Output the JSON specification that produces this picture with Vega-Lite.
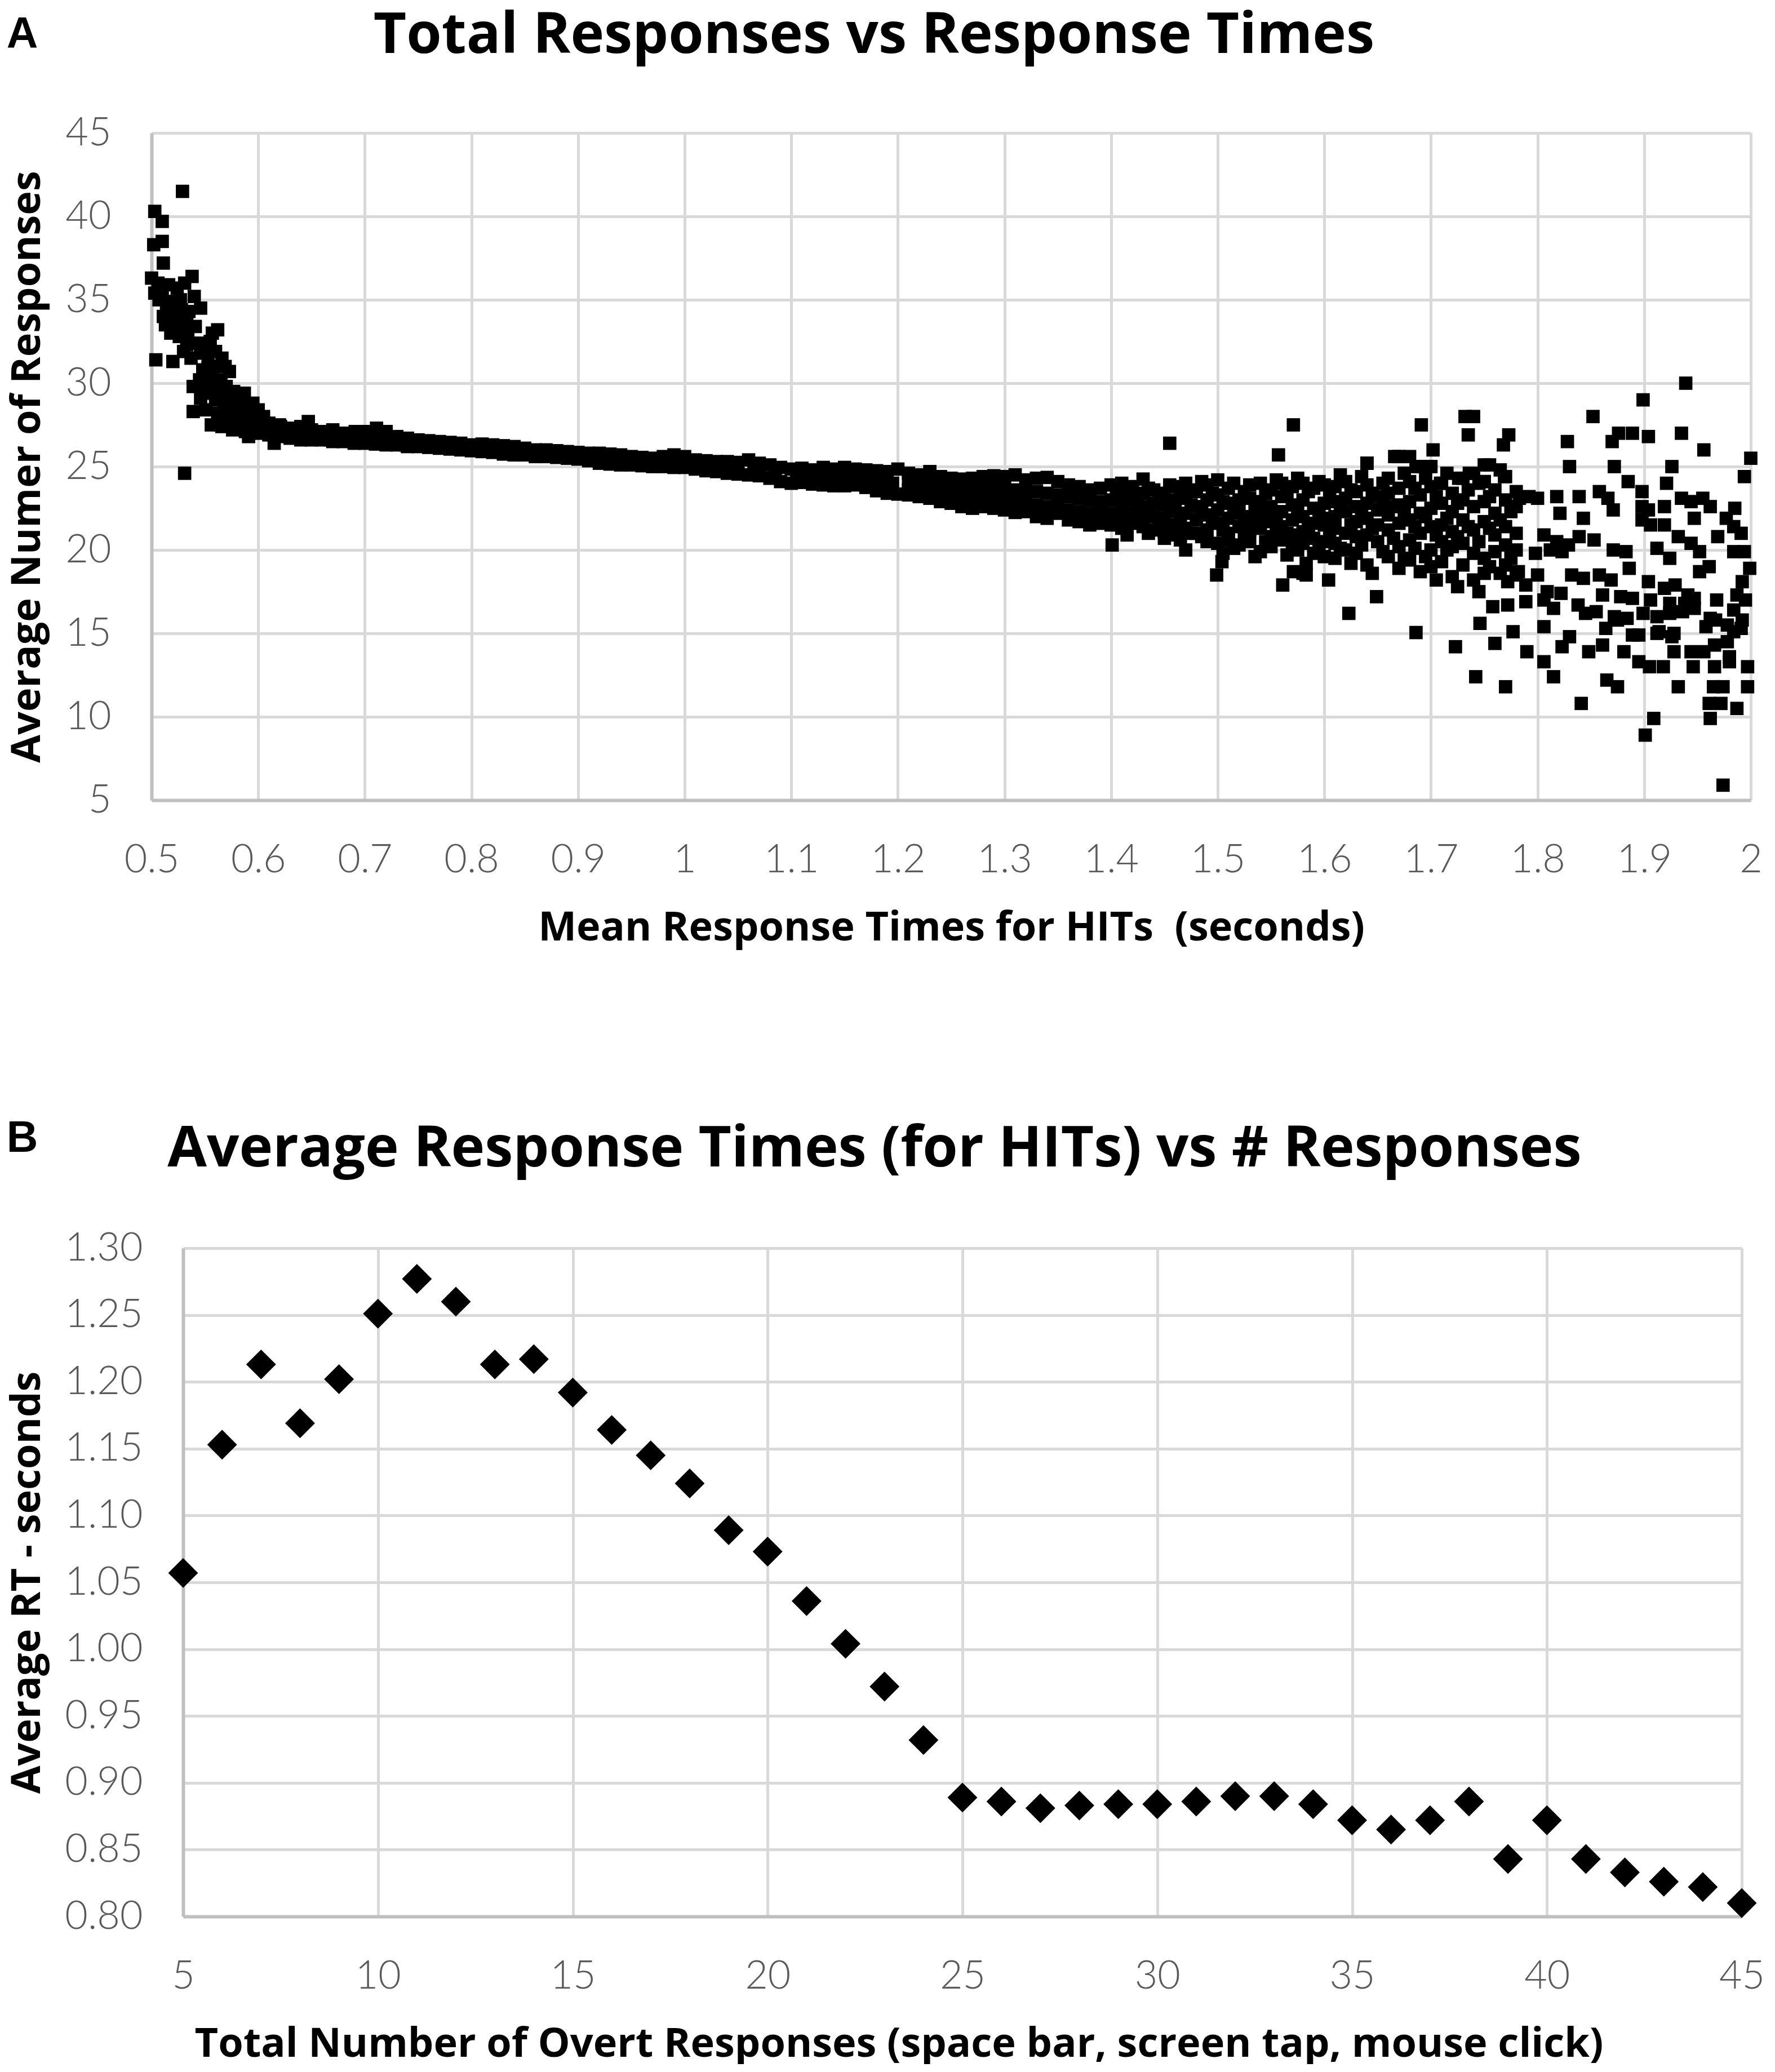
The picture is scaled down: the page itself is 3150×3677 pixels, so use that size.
{
  "$schema": "https://vega.github.io/schema/vega-lite/v6.json",
  "background": "white",
  "padding": {"top": 13, "left": 11, "right": 0, "bottom": 0},
  "spacing": 300,
  "config": {
    "view": {"stroke": null},
    "axis": {
      "labelFont": "Lato", "labelFontSize": 70, "labelFontWeight": 300, "labelColor": "#595959",
      "labelPadding": 72, "labelFlush": false, "labelOverlap": false,
      "ticks": false, "tickSize": 0,
      "grid": true, "gridColor": "#d9d9d9", "gridWidth": 5,
      "domainColor": "#bfbfbf", "domainWidth": 6,
      "titleFont": "Open Sans", "titleFontSize": 72, "titleFontWeight": "bold", "titleColor": "#000000"
    },
    "axisX": {"titlePadding": 50},
    "axisY": {"titlePadding": 30},
    "title": {"font": "Open Sans", "fontSize": 101, "fontWeight": "bold", "color": "#000000", "baseline": "alphabetic", "anchor": "middle", "frame": "group"}
  },
  "datasets": {
    "hits": [
      {"k":5,"rt":1.057},{"k":6,"rt":1.153},{"k":7,"rt":1.213},{"k":8,"rt":1.169},{"k":9,"rt":1.202},
      {"k":10,"rt":1.251},{"k":11,"rt":1.277},{"k":12,"rt":1.260},{"k":13,"rt":1.213},{"k":14,"rt":1.217},
      {"k":15,"rt":1.192},{"k":16,"rt":1.164},{"k":17,"rt":1.145},{"k":18,"rt":1.124},{"k":19,"rt":1.089},
      {"k":20,"rt":1.073},{"k":21,"rt":1.036},{"k":22,"rt":1.004},{"k":23,"rt":0.972},{"k":24,"rt":0.932},
      {"k":25,"rt":0.889},{"k":26,"rt":0.886},{"k":27,"rt":0.881},{"k":28,"rt":0.883},{"k":29,"rt":0.884},
      {"k":30,"rt":0.884},{"k":31,"rt":0.886},{"k":32,"rt":0.890},{"k":33,"rt":0.890},{"k":34,"rt":0.884},
      {"k":35,"rt":0.872},{"k":36,"rt":0.865},{"k":37,"rt":0.872},{"k":38,"rt":0.886},{"k":39,"rt":0.843},
      {"k":40,"rt":0.872},{"k":41,"rt":0.843},{"k":42,"rt":0.833},{"k":43,"rt":0.826},{"k":44,"rt":0.822},
      {"k":45,"rt":0.810}
    ],
    "rt": [
      {"t":0.529,"n":41.5},{"t":0.503,"n":40.3},{"t":0.510,"n":39.7},{"t":0.502,"n":38.3},{"t":0.510,"n":38.5},
      {"t":0.511,"n":37.2},{"t":0.500,"n":36.3},{"t":0.538,"n":36.4},{"t":0.531,"n":36.0},{"t":0.516,"n":35.9},
      {"t":0.524,"n":35.7},{"t":0.503,"n":35.4},{"t":0.510,"n":35.2},{"t":0.519,"n":34.6},{"t":0.528,"n":34.4},
      {"t":0.546,"n":34.5},{"t":0.514,"n":34.3},{"t":0.523,"n":34.1},{"t":0.535,"n":34.3},{"t":0.513,"n":33.5},
      {"t":0.524,"n":33.4},{"t":0.541,"n":33.4},{"t":0.562,"n":33.2},{"t":0.518,"n":33.0},{"t":0.526,"n":32.8},
      {"t":0.555,"n":32.5},{"t":0.543,"n":32.4},{"t":0.530,"n":31.9},{"t":0.504,"n":31.4},{"t":0.520,"n":31.3},
      {"t":0.537,"n":31.5},{"t":0.546,"n":31.8},{"t":0.553,"n":31.5},{"t":0.566,"n":31.5},{"t":0.573,"n":30.7},
      {"t":0.545,"n":30.2},{"t":0.554,"n":30.3},{"t":0.561,"n":30.2},{"t":0.546,"n":29.1},{"t":0.539,"n":28.3},
      {"t":0.551,"n":28.4},{"t":0.556,"n":27.5},{"t":0.564,"n":27.5},{"t":0.572,"n":29.2},{"t":0.587,"n":29.4},
      {"t":0.563,"n":29.5},{"t":0.558,"n":29.6},{"t":0.575,"n":28.0},{"t":0.582,"n":28.7},{"t":0.593,"n":28.4},
      {"t":0.596,"n":27.5},{"t":0.605,"n":28.0},{"t":0.591,"n":26.8},{"t":0.615,"n":26.4},{"t":0.610,"n":27.3},
      {"t":0.621,"n":27.4},{"t":0.636,"n":26.8},{"t":0.647,"n":27.7},{"t":0.659,"n":26.8},{"t":0.668,"n":26.6},
      {"t":0.677,"n":27.0},{"t":0.691,"n":27.1},{"t":0.711,"n":27.3},{"t":0.720,"n":26.4},{"t":0.738,"n":26.3},
      {"t":0.531,"n":24.6},{"t":0.566,"n":27.4},{"t":0.579,"n":27.4},
      {"t":0.548,"n":30.8},{"t":0.552,"n":29.9},{"t":0.557,"n":30.6},{"t":0.560,"n":29.0},{"t":0.565,"n":30.0},
      {"t":0.568,"n":28.8},{"t":0.570,"n":29.8},{"t":0.574,"n":28.5},{"t":0.577,"n":29.5},{"t":0.580,"n":28.2},
      {"t":0.584,"n":29.0},{"t":0.586,"n":27.8},{"t":0.589,"n":28.6},{"t":0.592,"n":27.9},{"t":0.595,"n":28.8},
      {"t":0.598,"n":27.9},{"t":0.600,"n":28.4},{"t":0.602,"n":27.4},{"t":0.606,"n":27.6},{"t":0.562,"n":28.2},
      {"t":0.567,"n":27.9},{"t":0.571,"n":27.6},{"t":0.576,"n":27.2},{"t":0.583,"n":27.3},{"t":0.588,"n":27.1},
      {"t":0.597,"n":27.1},{"t":0.553,"n":30.9},{"t":0.558,"n":31.0},{"t":0.549,"n":32.0},{"t":0.557,"n":33.0},
      {"t":0.533,"n":33.9},{"t":0.527,"n":35.0},{"t":0.540,"n":35.2},{"t":0.533,"n":32.3},{"t":0.539,"n":29.8},
      {"t":0.550,"n":29.4},{"t":0.569,"n":31.0},{"t":0.560,"n":31.9},{"t":0.516,"n":34.9},{"t":0.521,"n":33.8},
      {"t":0.529,"n":33.6},{"t":0.534,"n":32.9},{"t":0.511,"n":34.0},{"t":0.506,"n":36.0},{"t":0.507,"n":35.0},
      {"t":0.60,"n":27.8},{"t":0.60,"n":27.0},{"t":0.61,"n":27.6},{"t":0.61,"n":26.9},{"t":0.62,"n":27.5},{"t":0.62,"n":26.8},
      {"t":0.63,"n":27.3},{"t":0.63,"n":26.7},{"t":0.64,"n":27.4},{"t":0.64,"n":26.6},{"t":0.65,"n":27.2},{"t":0.65,"n":26.6},
      {"t":0.66,"n":27.1},{"t":0.66,"n":26.6},{"t":0.67,"n":27.2},{"t":0.67,"n":26.5},{"t":0.68,"n":27.0},{"t":0.68,"n":26.5},
      {"t":0.69,"n":27.0},{"t":0.69,"n":26.4},{"t":0.70,"n":27.1},{"t":0.70,"n":26.4},
      {"t":0.605,"n":27.3},{"t":0.615,"n":27.1},{"t":0.625,"n":27.0},{"t":0.635,"n":27.0},{"t":0.645,"n":27.0},
      {"t":0.655,"n":26.9},{"t":0.665,"n":26.8},{"t":0.675,"n":26.8},{"t":0.685,"n":26.7},{"t":0.695,"n":26.7},
      {"t":0.71,"n":26.9},{"t":0.71,"n":26.35},{"t":0.72,"n":27.1},{"t":0.72,"n":26.3},{"t":0.73,"n":26.8},{"t":0.73,"n":26.3},
      {"t":0.74,"n":26.7},{"t":0.74,"n":26.2},{"t":0.75,"n":26.6},{"t":0.75,"n":26.2},{"t":0.76,"n":26.55},{"t":0.76,"n":26.15},
      {"t":0.77,"n":26.5},{"t":0.77,"n":26.1},{"t":0.78,"n":26.45},{"t":0.78,"n":26.05},{"t":0.79,"n":26.4},{"t":0.79,"n":26.0},
      {"t":0.80,"n":26.3},{"t":0.80,"n":25.95},{"t":0.81,"n":26.35},{"t":0.81,"n":25.9},{"t":0.82,"n":26.3},{"t":0.82,"n":25.85},
      {"t":0.83,"n":26.25},{"t":0.83,"n":25.75},{"t":0.84,"n":26.2},{"t":0.84,"n":25.7},{"t":0.85,"n":26.1},{"t":0.85,"n":25.7},
      {"t":0.86,"n":26.0},{"t":0.86,"n":25.6},{"t":0.87,"n":26.0},{"t":0.87,"n":25.6},{"t":0.88,"n":25.95},{"t":0.88,"n":25.55},
      {"t":0.89,"n":25.9},{"t":0.89,"n":25.5},{"t":0.90,"n":25.85},{"t":0.90,"n":25.45},{"t":0.91,"n":25.8},{"t":0.91,"n":25.35},
      {"t":0.92,"n":25.8},{"t":0.92,"n":25.2},{"t":0.93,"n":25.75},{"t":0.93,"n":25.15},{"t":0.94,"n":25.7},{"t":0.94,"n":25.1},
      {"t":0.95,"n":25.6},{"t":0.95,"n":25.1},{"t":0.96,"n":25.55},{"t":0.96,"n":25.05},{"t":0.97,"n":25.5},{"t":0.97,"n":25.0},
      {"t":0.98,"n":25.6},{"t":0.98,"n":25.0},{"t":0.99,"n":25.7},{"t":0.99,"n":24.95},{"t":1.00,"n":25.6},{"t":1.00,"n":24.95},
      {"t":1.01,"n":25.4},{"t":1.01,"n":24.85},{"t":1.02,"n":25.35},{"t":1.02,"n":24.75},{"t":1.03,"n":25.3},{"t":1.03,"n":24.7},
      {"t":1.04,"n":25.3},{"t":1.04,"n":24.6},{"t":1.05,"n":25.25},{"t":1.05,"n":24.55},{"t":1.06,"n":25.4},{"t":1.06,"n":24.5},
      {"t":1.07,"n":25.2},{"t":1.07,"n":24.45},{"t":1.08,"n":25.1},{"t":1.08,"n":24.3},{"t":1.09,"n":24.95},{"t":1.09,"n":24.1},
      {"t":1.10,"n":24.85},{"t":1.10,"n":24.0},{"t":1.11,"n":24.9},{"t":1.11,"n":24.05},{"t":1.12,"n":24.8},{"t":1.12,"n":23.95},
      {"t":1.13,"n":24.95},{"t":1.13,"n":23.9},{"t":1.14,"n":24.85},{"t":1.14,"n":23.85},{"t":1.15,"n":24.95},{"t":1.15,"n":23.85},
      {"t":1.16,"n":24.85},{"t":1.16,"n":23.9},{"t":1.17,"n":24.8},{"t":1.17,"n":23.75},{"t":1.18,"n":24.75},{"t":1.18,"n":23.55},
      {"t":1.19,"n":24.7},{"t":1.19,"n":23.4},{"t":1.20,"n":24.85},{"t":1.20,"n":23.35},
      {"t":0.925,"n":25.45},{"t":0.945,"n":25.4},{"t":0.965,"n":25.3},{"t":0.985,"n":25.3},{"t":1.005,"n":25.2},
      {"t":1.025,"n":25.05},{"t":1.045,"n":24.95},{"t":1.065,"n":24.9},{"t":1.085,"n":24.7},{"t":1.105,"n":24.45},
      {"t":1.115,"n":24.45},{"t":1.125,"n":24.4},{"t":1.135,"n":24.4},{"t":1.145,"n":24.35},{"t":1.155,"n":24.4},
      {"t":1.165,"n":24.35},{"t":1.175,"n":24.2},{"t":1.185,"n":24.15},{"t":1.195,"n":24.0},
      {"t":1.21,"n":24.6},{"t":1.21,"n":24.1},{"t":1.21,"n":23.6},{"t":1.21,"n":23.3},
      {"t":1.22,"n":24.5},{"t":1.22,"n":24.0},{"t":1.22,"n":23.5},{"t":1.22,"n":23.2},
      {"t":1.23,"n":24.7},{"t":1.23,"n":24.1},{"t":1.23,"n":23.6},{"t":1.23,"n":23.1},
      {"t":1.24,"n":24.4},{"t":1.24,"n":23.9},{"t":1.24,"n":23.4},{"t":1.24,"n":22.9},
      {"t":1.25,"n":24.3},{"t":1.25,"n":23.8},{"t":1.25,"n":23.3},{"t":1.25,"n":22.8},
      {"t":1.26,"n":24.25},{"t":1.26,"n":23.7},{"t":1.26,"n":23.2},{"t":1.26,"n":22.6},
      {"t":1.27,"n":24.3},{"t":1.27,"n":23.8},{"t":1.27,"n":23.1},{"t":1.27,"n":22.5},
      {"t":1.28,"n":24.4},{"t":1.28,"n":23.7},{"t":1.28,"n":23.0},{"t":1.28,"n":22.6},
      {"t":1.29,"n":24.45},{"t":1.29,"n":23.8},{"t":1.29,"n":23.1},{"t":1.29,"n":22.5},
      {"t":1.30,"n":24.4},{"t":1.30,"n":23.7},{"t":1.30,"n":23.0},{"t":1.30,"n":22.4},
      {"t":1.31,"n":24.5},{"t":1.31,"n":23.6},{"t":1.31,"n":22.9},{"t":1.31,"n":22.25},
      {"t":1.32,"n":24.2},{"t":1.32,"n":23.5},{"t":1.32,"n":22.8},{"t":1.32,"n":22.3},
      {"t":1.33,"n":24.3},{"t":1.33,"n":23.5},{"t":1.33,"n":22.7},{"t":1.33,"n":22.0},
      {"t":1.34,"n":24.35},{"t":1.34,"n":23.4},{"t":1.34,"n":22.6},{"t":1.34,"n":21.9},
      {"t":1.35,"n":24.1},{"t":1.35,"n":23.3},{"t":1.35,"n":22.6},{"t":1.35,"n":22.2},
      {"t":1.36,"n":23.9},{"t":1.36,"n":23.2},{"t":1.36,"n":22.4},{"t":1.36,"n":21.8},
      {"t":1.37,"n":23.8},{"t":1.37,"n":23.1},{"t":1.37,"n":22.3},{"t":1.37,"n":21.7},
      {"t":1.38,"n":23.6},{"t":1.38,"n":23.0},{"t":1.38,"n":22.2},{"t":1.38,"n":21.5},
      {"t":1.39,"n":23.7},{"t":1.39,"n":22.9},{"t":1.39,"n":22.1},{"t":1.39,"n":21.6},
      {"t":1.40,"n":23.9},{"t":1.40,"n":23.0},{"t":1.40,"n":22.2},{"t":1.40,"n":21.5},{"t":1.401,"n":20.3},
      {"t":1.41,"n":24.0},{"t":1.41,"n":23.2},{"t":1.41,"n":22.5},{"t":1.41,"n":21.8},{"t":1.41,"n":21.3},
      {"t":1.42,"n":23.8},{"t":1.42,"n":23.0},{"t":1.42,"n":22.2},{"t":1.42,"n":21.6},
      {"t":1.43,"n":24.25},{"t":1.43,"n":23.4},{"t":1.43,"n":22.6},{"t":1.43,"n":21.9},{"t":1.43,"n":21.4},
      {"t":1.44,"n":23.6},{"t":1.44,"n":22.8},{"t":1.44,"n":22.0},{"t":1.44,"n":21.2},
      {"t":1.45,"n":23.4},{"t":1.45,"n":22.7},{"t":1.45,"n":21.9},{"t":1.45,"n":21.1},{"t":1.45,"n":20.7},
      {"t":1.455,"n":26.4},
      {"t":1.46,"n":23.8},{"t":1.46,"n":23.0},{"t":1.46,"n":22.3},{"t":1.46,"n":21.5},{"t":1.46,"n":20.9},
      {"t":1.47,"n":24.0},{"t":1.47,"n":23.1},{"t":1.47,"n":22.2},{"t":1.47,"n":21.3},{"t":1.47,"n":20.0},
      {"t":1.48,"n":23.5},{"t":1.48,"n":22.6},{"t":1.48,"n":21.8},{"t":1.48,"n":21.0},
      {"t":1.49,"n":23.9},{"t":1.49,"n":23.0},{"t":1.49,"n":22.1},{"t":1.49,"n":21.2},{"t":1.49,"n":20.5},
      {"t":1.50,"n":24.2},{"t":1.50,"n":23.3},{"t":1.50,"n":22.4},{"t":1.50,"n":21.6},{"t":1.50,"n":20.4},
      {"t":1.499,"n":18.5},{"t":1.504,"n":19.3},
      {"t":1.51,"n":23.7},{"t":1.51,"n":22.8},{"t":1.51,"n":21.9},{"t":1.51,"n":21.0},{"t":1.51,"n":20.6},
      {"t":1.52,"n":23.0},{"t":1.52,"n":22.2},{"t":1.52,"n":21.4},{"t":1.52,"n":20.3},
      {"t":1.53,"n":23.9},{"t":1.53,"n":23.1},{"t":1.53,"n":22.0},{"t":1.53,"n":21.2},{"t":1.53,"n":20.5},
      {"t":1.54,"n":24.0},{"t":1.54,"n":22.9},{"t":1.54,"n":22.1},{"t":1.54,"n":21.3},{"t":1.54,"n":19.9},
      {"t":1.55,"n":23.6},{"t":1.55,"n":22.6},{"t":1.55,"n":21.7},{"t":1.55,"n":20.8},{"t":1.55,"n":20.2},
      {"t":1.557,"n":25.7},{"t":1.561,"n":17.9},
      {"t":1.56,"n":24.0},{"t":1.56,"n":23.2},{"t":1.56,"n":22.3},{"t":1.56,"n":21.4},{"t":1.56,"n":20.6},
      {"t":1.57,"n":23.8},{"t":1.57,"n":22.7},{"t":1.57,"n":21.8},{"t":1.57,"n":20.9},{"t":1.57,"n":20.3},
      {"t":1.571,"n":27.5},{"t":1.571,"n":18.7},
      {"t":1.58,"n":24.0},{"t":1.58,"n":23.0},{"t":1.58,"n":22.0},{"t":1.58,"n":21.1},{"t":1.58,"n":20.4},
      {"t":1.583,"n":19.2},{"t":1.583,"n":18.5},{"t":1.580,"n":18.6},
      {"t":1.59,"n":23.7},{"t":1.59,"n":22.5},{"t":1.59,"n":21.6},{"t":1.59,"n":20.7},{"t":1.59,"n":19.8},
      {"t":1.60,"n":23.9},{"t":1.60,"n":22.8},{"t":1.60,"n":21.5},{"t":1.60,"n":20.5},{"t":1.60,"n":19.6},{"t":1.604,"n":18.2},
      {"t":1.61,"n":23.8},{"t":1.61,"n":22.9},{"t":1.61,"n":22.0},{"t":1.61,"n":21.3},{"t":1.61,"n":20.4},{"t":1.61,"n":19.5},
      {"t":1.62,"n":24.1},{"t":1.62,"n":23.1},{"t":1.62,"n":22.3},{"t":1.62,"n":21.0},{"t":1.62,"n":20.0},{"t":1.623,"n":16.2},
      {"t":1.63,"n":23.5},{"t":1.63,"n":22.6},{"t":1.63,"n":21.7},{"t":1.63,"n":20.8},{"t":1.63,"n":19.8},
      {"t":1.64,"n":25.2},{"t":1.64,"n":23.9},{"t":1.64,"n":22.8},{"t":1.64,"n":21.9},{"t":1.64,"n":20.9},{"t":1.64,"n":19.1},
      {"t":1.65,"n":23.2},{"t":1.65,"n":22.4},{"t":1.65,"n":21.5},{"t":1.65,"n":20.5},{"t":1.649,"n":17.2},
      {"t":1.66,"n":24.3},{"t":1.66,"n":23.4},{"t":1.66,"n":22.1},{"t":1.66,"n":21.2},{"t":1.66,"n":19.6},
      {"t":1.67,"n":25.6},{"t":1.67,"n":23.7},{"t":1.67,"n":22.7},{"t":1.67,"n":21.6},{"t":1.67,"n":20.2},{"t":1.67,"n":18.9},
      {"t":1.68,"n":25.6},{"t":1.68,"n":24.1},{"t":1.68,"n":22.9},{"t":1.68,"n":21.8},{"t":1.68,"n":20.6},{"t":1.68,"n":19.4},
      {"t":1.69,"n":25.0},{"t":1.69,"n":23.3},{"t":1.69,"n":22.2},{"t":1.69,"n":21.0},{"t":1.69,"n":18.7},{"t":1.686,"n":15.05},{"t":1.691,"n":27.5},
      {"t":1.70,"n":25.0},{"t":1.70,"n":23.8},{"t":1.70,"n":22.5},{"t":1.70,"n":21.4},{"t":1.70,"n":20.0},{"t":1.70,"n":19.0},{"t":1.702,"n":26.0},
      {"t":1.71,"n":24.0},{"t":1.71,"n":22.8},{"t":1.71,"n":21.5},{"t":1.71,"n":20.5},{"t":1.71,"n":19.3},
      {"t":1.72,"n":23.4},{"t":1.72,"n":22.3},{"t":1.72,"n":21.1},{"t":1.72,"n":20.2},{"t":1.72,"n":18.4},{"t":1.723,"n":14.2},
      {"t":1.73,"n":24.3},{"t":1.73,"n":23.0},{"t":1.73,"n":21.8},{"t":1.73,"n":20.4},{"t":1.73,"n":19.1},{"t":1.732,"n":28.0},
      {"t":1.74,"n":24.6},{"t":1.74,"n":22.6},{"t":1.74,"n":21.2},{"t":1.74,"n":19.8},{"t":1.74,"n":18.2},{"t":1.740,"n":28.0},
      {"t":1.735,"n":26.9},{"t":1.742,"n":12.4},
      {"t":1.75,"n":25.1},{"t":1.75,"n":24.1},{"t":1.75,"n":22.9},{"t":1.75,"n":21.7},{"t":1.75,"n":19.5},{"t":1.75,"n":18.6},{"t":1.746,"n":15.6},
      {"t":1.76,"n":23.6},{"t":1.76,"n":22.2},{"t":1.76,"n":20.9},{"t":1.76,"n":19.9},{"t":1.760,"n":14.4},
      {"t":1.77,"n":24.4},{"t":1.77,"n":23.0},{"t":1.77,"n":21.4},{"t":1.77,"n":20.3},{"t":1.77,"n":19.1},
      {"t":1.773,"n":26.9},{"t":1.768,"n":26.3},{"t":1.770,"n":11.8},
      {"t":1.78,"n":23.5},{"t":1.78,"n":22.6},{"t":1.78,"n":21.0},{"t":1.78,"n":20.0},{"t":1.78,"n":18.5},{"t":1.777,"n":15.1},
      {"t":1.405,"n":23.6},{"t":1.405,"n":22.1},{"t":1.415,"n":23.4},{"t":1.415,"n":21.9},{"t":1.415,"n":20.9},
      {"t":1.425,"n":23.1},{"t":1.425,"n":22.4},{"t":1.435,"n":23.7},{"t":1.435,"n":22.2},{"t":1.435,"n":21.0},
      {"t":1.445,"n":23.2},{"t":1.445,"n":21.6},{"t":1.455,"n":23.9},{"t":1.455,"n":22.5},{"t":1.455,"n":21.3},
      {"t":1.465,"n":23.4},{"t":1.465,"n":21.9},{"t":1.465,"n":20.6},{"t":1.475,"n":23.6},{"t":1.475,"n":22.7},{"t":1.475,"n":21.0},
      {"t":1.485,"n":24.1},{"t":1.485,"n":22.3},{"t":1.485,"n":20.8},{"t":1.495,"n":23.4},{"t":1.495,"n":21.7},
      {"t":1.505,"n":22.9},{"t":1.505,"n":21.2},{"t":1.505,"n":19.8},{"t":1.515,"n":24.0},{"t":1.515,"n":22.4},{"t":1.515,"n":20.1},
      {"t":1.525,"n":23.5},{"t":1.525,"n":21.8},{"t":1.525,"n":20.8},{"t":1.535,"n":22.5},{"t":1.535,"n":21.6},{"t":1.535,"n":19.6},
      {"t":1.545,"n":23.4},{"t":1.545,"n":21.9},{"t":1.545,"n":20.5},{"t":1.555,"n":24.2},{"t":1.555,"n":22.1},{"t":1.555,"n":21.2},
      {"t":1.565,"n":23.3},{"t":1.565,"n":21.0},{"t":1.565,"n":19.7},{"t":1.575,"n":24.3},{"t":1.575,"n":22.3},{"t":1.575,"n":20.0},
      {"t":1.585,"n":23.5},{"t":1.585,"n":21.5},{"t":1.585,"n":20.9},{"t":1.595,"n":24.1},{"t":1.595,"n":22.2},{"t":1.595,"n":20.2},
      {"t":1.605,"n":23.3},{"t":1.605,"n":21.9},{"t":1.605,"n":20.9},{"t":1.615,"n":24.5},{"t":1.615,"n":22.6},{"t":1.615,"n":20.1},
      {"t":1.625,"n":23.6},{"t":1.625,"n":21.5},{"t":1.625,"n":19.2},{"t":1.635,"n":24.4},{"t":1.635,"n":22.1},{"t":1.635,"n":20.3},
      {"t":1.645,"n":23.4},{"t":1.645,"n":21.3},{"t":1.645,"n":18.6},{"t":1.655,"n":24.0},{"t":1.655,"n":22.9},{"t":1.655,"n":19.9},
      {"t":1.665,"n":22.6},{"t":1.665,"n":20.7},{"t":1.675,"n":24.6},{"t":1.675,"n":22.2},{"t":1.675,"n":19.5},
      {"t":1.685,"n":23.7},{"t":1.685,"n":21.4},{"t":1.685,"n":20.1},{"t":1.695,"n":24.3},{"t":1.695,"n":22.0},{"t":1.695,"n":19.6},
      {"t":1.705,"n":23.2},{"t":1.705,"n":20.9},{"t":1.705,"n":18.2},{"t":1.715,"n":24.6},{"t":1.715,"n":21.9},{"t":1.715,"n":20.0},
      {"t":1.725,"n":22.8},{"t":1.725,"n":20.8},{"t":1.725,"n":17.8},{"t":1.735,"n":23.6},{"t":1.735,"n":21.4},
      {"t":1.745,"n":24.0},{"t":1.745,"n":20.5},{"t":1.745,"n":17.5},{"t":1.755,"n":23.2},{"t":1.755,"n":21.3},{"t":1.755,"n":19.0},
      {"t":1.765,"n":24.8},{"t":1.765,"n":21.8},{"t":1.765,"n":18.6},{"t":1.775,"n":22.3},{"t":1.775,"n":19.5},
      {"t":1.640,"n":25.2},{"t":1.666,"n":25.6},{"t":1.686,"n":25.0},{"t":1.697,"n":25.0},{"t":1.709,"n":24.0},
      {"t":1.726,"n":24.3},{"t":1.736,"n":24.6},{"t":1.755,"n":25.1},{"t":1.750,"n":24.1},{"t":1.769,"n":24.4},
      {"t":1.939,"n":30.0},{"t":1.899,"n":29.0},{"t":1.852,"n":28.0},{"t":1.935,"n":27.0},{"t":1.956,"n":26.0},
      {"t":2.0,"n":25.5},{"t":1.994,"n":24.4},{"t":1.828,"n":26.5},{"t":1.830,"n":25.0},{"t":1.870,"n":26.5},
      {"t":1.876,"n":27.0},{"t":1.889,"n":27.0},{"t":1.904,"n":26.8},{"t":1.872,"n":25.0},{"t":1.885,"n":24.1},
      {"t":1.898,"n":23.5},{"t":1.926,"n":25.0},{"t":1.921,"n":24.0},
      {"t":1.783,"n":23.1},{"t":1.792,"n":23.2},{"t":1.800,"n":23.1},{"t":1.818,"n":23.2},{"t":1.821,"n":22.2},
      {"t":1.839,"n":23.2},{"t":1.843,"n":21.9},{"t":1.858,"n":23.5},{"t":1.866,"n":23.1},{"t":1.871,"n":22.4},
      {"t":1.898,"n":22.6},{"t":1.904,"n":22.4},{"t":1.919,"n":22.6},{"t":1.935,"n":23.1},{"t":1.944,"n":22.9},
      {"t":1.955,"n":23.1},{"t":1.947,"n":21.9},{"t":1.962,"n":22.6},{"t":1.985,"n":22.5},{"t":1.977,"n":21.9},
      {"t":1.806,"n":20.9},{"t":1.818,"n":20.5},{"t":1.829,"n":20.3},{"t":1.839,"n":20.8},{"t":1.853,"n":20.6},
      {"t":1.871,"n":20.0},{"t":1.883,"n":19.9},{"t":1.898,"n":21.8},{"t":1.906,"n":21.5},{"t":1.919,"n":21.5},
      {"t":1.932,"n":20.8},{"t":1.944,"n":20.4},{"t":1.952,"n":19.9},{"t":1.912,"n":20.1},{"t":1.924,"n":19.5},
      {"t":1.969,"n":20.8},{"t":1.984,"n":21.4},{"t":1.991,"n":21.0},{"t":1.984,"n":19.9},{"t":1.994,"n":19.9},
      {"t":1.798,"n":19.8},{"t":1.812,"n":20.0},{"t":1.823,"n":19.9},
      {"t":1.782,"n":18.7},{"t":1.800,"n":18.5},{"t":1.832,"n":18.5},{"t":1.843,"n":18.3},{"t":1.858,"n":18.5},
      {"t":1.869,"n":18.2},{"t":1.886,"n":18.9},{"t":1.904,"n":18.1},{"t":1.919,"n":17.7},{"t":1.929,"n":17.9},
      {"t":1.941,"n":17.3},{"t":1.952,"n":18.7},{"t":1.961,"n":19.0},{"t":1.999,"n":18.9},{"t":1.992,"n":18.1},
      {"t":1.987,"n":17.3},{"t":1.968,"n":17.0},{"t":1.772,"n":18.1},{"t":1.789,"n":17.9},{"t":1.809,"n":17.5},
      {"t":1.822,"n":17.4},{"t":1.861,"n":17.3},{"t":1.878,"n":17.2},{"t":1.889,"n":17.1},{"t":1.906,"n":17.0},
      {"t":1.924,"n":16.8},{"t":1.938,"n":16.8},{"t":1.947,"n":17.1},
      {"t":1.758,"n":16.6},{"t":1.772,"n":16.7},{"t":1.789,"n":16.9},{"t":1.806,"n":17.0},{"t":1.815,"n":16.5},
      {"t":1.838,"n":16.7},{"t":1.845,"n":16.2},{"t":1.855,"n":16.3},{"t":1.872,"n":16.0},{"t":1.884,"n":15.9},
      {"t":1.899,"n":16.2},{"t":1.912,"n":16.0},{"t":1.924,"n":16.2},{"t":1.936,"n":16.3},{"t":1.947,"n":16.5},
      {"t":1.984,"n":16.4},{"t":1.995,"n":17.0},{"t":1.992,"n":15.8},{"t":1.962,"n":15.9},{"t":1.967,"n":15.8},
      {"t":1.978,"n":15.5},{"t":1.914,"n":15.1},{"t":1.926,"n":14.8},
      {"t":1.790,"n":13.9},{"t":1.806,"n":15.4},{"t":1.806,"n":13.3},{"t":1.815,"n":12.4},{"t":1.841,"n":10.8},
      {"t":1.823,"n":14.2},{"t":1.830,"n":14.8},{"t":1.848,"n":13.9},{"t":1.861,"n":14.3},{"t":1.865,"n":12.2},
      {"t":1.875,"n":11.8},{"t":1.881,"n":13.9},{"t":1.895,"n":13.3},{"t":1.905,"n":13.0},{"t":1.918,"n":13.0},
      {"t":1.895,"n":14.9},{"t":1.909,"n":9.9},{"t":1.901,"n":8.9},{"t":1.928,"n":13.9},{"t":1.932,"n":11.8},
      {"t":1.946,"n":13.0},{"t":1.956,"n":13.9},{"t":1.966,"n":13.0},{"t":1.965,"n":11.8},{"t":1.974,"n":11.8},
      {"t":1.961,"n":10.8},{"t":1.972,"n":10.8},{"t":1.962,"n":9.9},{"t":1.987,"n":10.5},{"t":1.974,"n":5.9},
      {"t":1.997,"n":13.0},{"t":1.997,"n":11.8},{"t":1.978,"n":14.5},{"t":1.984,"n":15.1},{"t":1.991,"n":15.3},
      {"t":1.966,"n":14.3},{"t":1.958,"n":15.4},{"t":1.944,"n":13.9},{"t":1.912,"n":15.0},{"t":1.928,"n":15.0},
      {"t":1.889,"n":14.9},{"t":1.875,"n":15.8},{"t":1.864,"n":15.3},{"t":1.980,"n":13.3},{"t":1.980,"n":13.6}
    ]
  },
  "vconcat": [
    {
      "width": 2838,
      "height": 1184,
      "title": {"text": "Total Responses vs Response Times", "dx": -137, "offset": -92},
      "layer": [
        {
          "data": {"name": "rt"},
          "mark": {"type": "point", "shape": "square", "filled": true, "size": 560, "color": "#000000", "opacity": 1},
          "encoding": {
            "x": {
              "field": "t", "type": "quantitative",
              "title": "Mean Response Times for HITs \u00a0(seconds)",
              "scale": {"domain": [0.5, 2], "nice": false, "zero": false},
              "axis": {"values": [0.5, 0.6, 0.7, 0.8, 0.9, 1, 1.1, 1.2, 1.3, 1.4, 1.5, 1.6, 1.7, 1.8, 1.9, 2], "format": "~g"}
            },
            "y": {
              "field": "n", "type": "quantitative",
              "title": "Average Numer of Responses",
              "scale": {"domain": [5, 45], "nice": false, "zero": false},
              "axis": {"values": [5, 10, 15, 20, 25, 30, 35, 40, 45], "format": "d"}
            }
          }
        },
        {
          "data": {"values": [{}]},
          "mark": {"type": "text", "text": "A", "font": "Liberation Sans", "fontSize": 77, "fontWeight": "bold", "align": "left", "baseline": "alphabetic", "color": "#000000"},
          "encoding": {
            "x": {"datum": 0.364, "type": "quantitative", "scale": {"domain": [0.5, 2], "nice": false, "zero": false}},
            "y": {"datum": 50.1, "type": "quantitative", "scale": {"domain": [5, 45], "nice": false, "zero": false}}
          }
        }
      ]
    },
    {
      "width": 2822,
      "height": 1186,
      "title": {"text": "Average Response Times (for HITs) vs # Responses", "dx": -128, "offset": -109},
      "layer": [
        {
          "data": {"name": "hits"},
          "mark": {"type": "point", "shape": "diamond", "filled": true, "size": 2800, "color": "#000000", "opacity": 1},
          "encoding": {
            "x": {
              "field": "k", "type": "quantitative",
              "title": "Total Number of Overt Responses (space bar, screen tap, mouse click)",
              "scale": {"domain": [5, 45], "range": [56, 2822], "nice": false, "zero": false},
              "axis": {"values": [5, 10, 15, 20, 25, 30, 35, 40, 45], "format": "d", "titleX": 1326, "titleAlign": "center"}
            },
            "y": {
              "field": "rt", "type": "quantitative",
              "title": "Average RT - seconds",
              "scale": {"domain": [0.8, 1.3], "nice": false, "zero": false},
              "axis": {"values": [0.8, 0.85, 0.9, 0.95, 1.0, 1.05, 1.1, 1.15, 1.2, 1.25, 1.3], "format": ".2f", "titlePadding": 40, "offset": -56}
            }
          }
        },
        {
          "data": {"values": [{}]},
          "mark": {"type": "text", "text": "B", "font": "Liberation Sans", "fontSize": 77, "fontWeight": "bold", "align": "left", "baseline": "alphabetic", "color": "#000000"},
          "encoding": {
            "x": {"datum": 0.47, "type": "quantitative", "scale": {"domain": [5, 45], "range": [56, 2822], "nice": false, "zero": false}},
            "y": {"datum": 1.372, "type": "quantitative", "scale": {"domain": [0.8, 1.3], "nice": false, "zero": false}}
          }
        }
      ]
    }
  ]
}
